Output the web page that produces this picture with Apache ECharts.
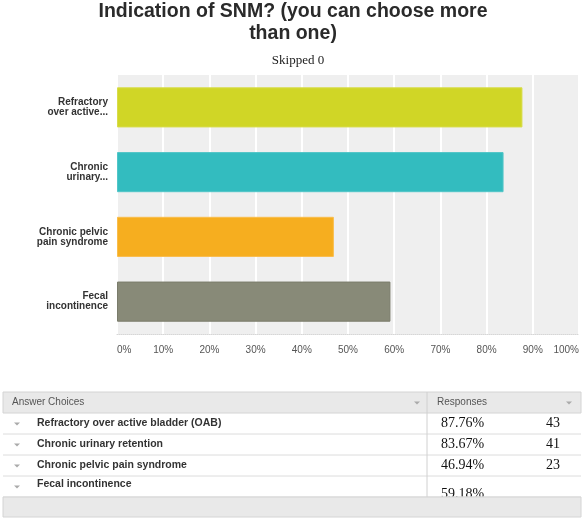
<!DOCTYPE html>
<html>
<head>
<meta charset="utf-8">
<script src="https://cdn.jsdelivr.net/npm/echarts@6/dist/echarts.min.js"></script>
<style>
  html, body { margin: 0; padding: 0; background: #fff; overflow: hidden; }
  #main { width: 588px; height: 520px; }
</style>
</head>
<body>
<div id="main"></div>
<script>
var categories = ['Refractory\nover active...', 'Chronic\nurinary...', 'Chronic pelvic\npain syndrome', 'Fecal\nincontinence'];
var choices = ['Refractory over active bladder (OAB)', 'Chronic urinary retention', 'Chronic pelvic pain syndrome', 'Fecal incontinence'];
var percents = [87.76, 83.67, 46.94, 59.18];
var counts = [43, 41, 23, null];
var barColors = ['#d0d626', '#33bcbf', '#f6ae1f', '#888a78'];
var barBorders = ['#d8dc4c', '#52c6c8', '#f9bd4c', '#7a7c6b'];

var myChart = echarts.init(document.getElementById('main'));

var sans = '"Liberation Sans", Arial, sans-serif';
var serif = '"Liberation Serif", "Times New Roman", serif';

// titles and the response table are drawn as graphics
var graphics = [];
graphics.push({ type: 'text', x: 293, y: 1, style: {
  text: 'Indication of SNM? (you can choose more\nthan one)', font: 'bold 19.5px ' + sans,
  fill: '#2a2a2a', textAlign: 'center', lineHeight: 22 } });
graphics.push({ type: 'text', x: 298, y: 54, style: {
  text: 'Skipped 0', font: '13px ' + serif, fill: '#222', textAlign: 'center' } });

var tTop = 392, rowH = 21, tLeft = 3, tRight = 581, divX = 427;
graphics.push({ type: 'rect', shape: { x: tLeft, y: tTop, width: tRight - tLeft, height: rowH },
  style: { fill: '#e9e9e9', stroke: '#d4d4d4', lineWidth: 1 } });
graphics.push({ type: 'text', x: 12, y: tTop + 5, style: { text: 'Answer Choices', font: '10px ' + sans, fill: '#555' } });
graphics.push({ type: 'text', x: 437, y: tTop + 5, style: { text: 'Responses', font: '10px ' + sans, fill: '#555' } });

function tri(x, y) {
  return { type: 'polygon', shape: { points: [[x - 3, y - 1.5], [x + 3, y - 1.5], [x, y + 1.5]] },
    style: { fill: '#aaa' } };
}
graphics.push(tri(417, tTop + 11));
graphics.push(tri(569, tTop + 11));

for (var i = 0; i < choices.length; i++) {
  var y0 = tTop + rowH * (i + 1);
  var last = i === choices.length - 1;
  graphics.push(tri(17, y0 + 11));
  graphics.push({ type: 'text', x: 37, y: y0 + (last ? 3 : 5), style: {
    text: choices[i], font: 'bold 10.5px ' + sans, fill: '#333' } });
  graphics.push({ type: 'text', x: 441, y: y0 + (last ? 11 : 3), style: {
    text: percents[i].toFixed(2) + '%', font: '14px ' + serif, fill: '#111' } });
  if (counts[i] !== null) {
    graphics.push({ type: 'text', x: 546, y: y0 + 3, style: {
      text: String(counts[i]), font: '14px ' + serif, fill: '#111' } });
  }
  graphics.push({ type: 'line', shape: { x1: tLeft, y1: y0 + rowH, x2: tRight, y2: y0 + rowH },
    style: { stroke: '#dcdcdc', lineWidth: 1 } });
}
graphics.push({ type: 'line', shape: { x1: divX, y1: tTop, x2: divX, y2: tTop + rowH * 5 },
  style: { stroke: '#d0d0d0', lineWidth: 1 } });
// footer covers the clipped last value
graphics.push({ type: 'rect', shape: { x: tLeft, y: tTop + rowH * 5, width: tRight - tLeft, height: 20 },
  style: { fill: '#e9e9e9', stroke: '#d4d4d4', lineWidth: 1 } });

var option = {
  animation: false,
  grid: { left: 117, right: 9, top: 75, height: 259, outerBoundsMode: 'none',
    show: true, backgroundColor: '#efefef', borderWidth: 0 },
  xAxis: {
    type: 'value', min: 0, max: 100, interval: 10,
    axisLabel: { formatter: '{value}%', color: '#555', fontSize: 10, fontFamily: sans, margin: 11,
      alignMinLabel: 'left', alignMaxLabel: 'right' },
    axisLine: { show: true, lineStyle: { color: '#d6d6d6', type: 'dotted' } },
    axisTick: { show: false },
    splitLine: { show: true, lineStyle: { color: '#ffffff', width: 2 } }
  },
  yAxis: {
    type: 'category', data: categories, inverse: true,
    axisLabel: { color: '#333', fontSize: 10, fontWeight: 'bold', fontFamily: sans, lineHeight: 10, margin: 9 },
    axisLine: { show: false },
    axisTick: { show: false }
  },
  series: [{
    type: 'bar',
    barCategoryGap: '38%',
    data: percents.map(function (v, i) {
      return { value: v, itemStyle: { color: barColors[i], borderColor: barBorders[i], borderWidth: 1 } };
    })
  }],
  graphic: graphics
};

myChart.setOption(option);
</script>
</body>
</html>
